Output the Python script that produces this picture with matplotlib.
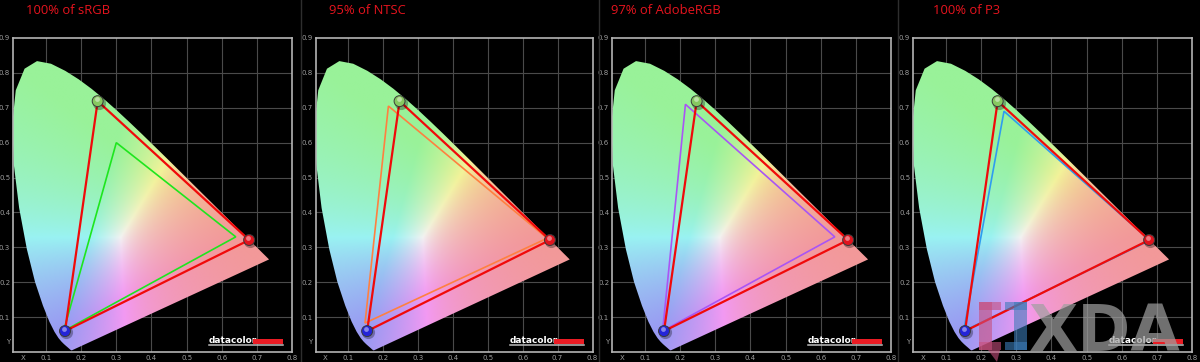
import numpy as np
import matplotlib
matplotlib.use("Agg")
import matplotlib.pyplot as plt
from matplotlib.patches import Polygon, Rectangle

# ---------------- data ----------------
# CIE 1931 spectral locus (380..700 nm, 5 nm steps)
locus_x = [0.1741, 0.1740, 0.1738, 0.1736, 0.1733, 0.1730, 0.1726, 0.1721, 0.1714, 0.1703,
           0.1689, 0.1669, 0.1644, 0.1611, 0.1566, 0.1510, 0.1440, 0.1355, 0.1241, 0.1096,
           0.0913, 0.0687, 0.0454, 0.0235, 0.0082, 0.0039, 0.0139, 0.0389, 0.0743, 0.1142,
           0.1547, 0.1929, 0.2296, 0.2658, 0.3016, 0.3373, 0.3731, 0.4087, 0.4441, 0.4788,
           0.5125, 0.5448, 0.5752, 0.6029, 0.6270, 0.6482, 0.6658, 0.6801, 0.6915, 0.7006,
           0.7079, 0.7140, 0.7190, 0.7230, 0.7260, 0.7283, 0.7300, 0.7311, 0.7320, 0.7327,
           0.7334, 0.7340, 0.7344, 0.7346, 0.7347]
locus_y = [0.0050, 0.0050, 0.0049, 0.0049, 0.0048, 0.0048, 0.0048, 0.0048, 0.0051, 0.0058,
           0.0069, 0.0086, 0.0109, 0.0138, 0.0177, 0.0227, 0.0297, 0.0399, 0.0578, 0.0868,
           0.1327, 0.2007, 0.2950, 0.4127, 0.5384, 0.6548, 0.7502, 0.8120, 0.8338, 0.8262,
           0.8059, 0.7816, 0.7543, 0.7243, 0.6923, 0.6589, 0.6245, 0.5896, 0.5547, 0.5202,
           0.4866, 0.4544, 0.4242, 0.3965, 0.3725, 0.3514, 0.3340, 0.3197, 0.3083, 0.2993,
           0.2920, 0.2859, 0.2809, 0.2770, 0.2740, 0.2717, 0.2700, 0.2689, 0.2680, 0.2673,
           0.2666, 0.2660, 0.2656, 0.2654, 0.2653]

# measured display gamut (R, G, B primaries)
measured_x = [0.678, 0.247, 0.154]
measured_y = [0.321, 0.719, 0.060]

# reference gamuts (R, G, B)
srgb_x = [0.64, 0.30, 0.15]
srgb_y = [0.33, 0.60, 0.06]
ntsc_x = [0.67, 0.215, 0.148]
ntsc_y = [0.326, 0.705, 0.083]
adobe_x = [0.64, 0.215, 0.15]
adobe_y = [0.33, 0.71, 0.06]
p3_x = [0.68, 0.265, 0.15]
p3_y = [0.32, 0.69, 0.06]

titles = ["100% of sRGB", "95% of NTSC", "97% of AdobeRGB", "100% of P3"]
ref_x = [srgb_x, ntsc_x, adobe_x, p3_x]
ref_y = [srgb_y, ntsc_y, adobe_y, p3_y]
ref_colors = ["#1ee61e", "#ff8040", "#a955f5", "#2f9cf0"]

x_ticks = [0.035, 0.1, 0.2, 0.3, 0.4, 0.5, 0.6, 0.7, 0.8]
x_labels = ["X", "0.1", "0.2", "0.3", "0.4", "0.5", "0.6", "0.7", "0.8"]
y_ticks = [0.03, 0.1, 0.2, 0.3, 0.4, 0.5, 0.6, 0.7, 0.8, 0.9]
y_labels = ["Y", "0.1", "0.2", "0.3", "0.4", "0.5", "0.6", "0.7", "0.8", "0.9"]
grid_x = [0.1, 0.2, 0.3, 0.4, 0.5, 0.6, 0.7]
grid_y = [0.1, 0.2, 0.3, 0.4, 0.5, 0.6, 0.7, 0.8]

# ---------------- layout ----------------
W, H = 1200, 362
fig = plt.figure(figsize=(W / 100, H / 100), dpi=100, facecolor="black")

panel_left = [13, 315.5, 612, 913]
panel_width = [279, 277, 279, 279]
title_left = [26, 329, 611, 933]
XMIN, XMAX, YMIN, YMAX = 0.006, 0.8, 0.0, 0.9


def chroma_image():
    xs = np.linspace(0, 0.8, 480)
    ys = np.linspace(0, 0.9, 540)
    X, Y = np.meshgrid(xs, ys)
    Yc = np.clip(Y, 1e-3, None)
    XX = X / Yc
    ZZ = np.clip(1 - X - Y, 0, None) / Yc
    YY = np.ones_like(X)
    R = 3.2406 * XX - 1.5372 * YY - 0.4986 * ZZ
    G = -0.9689 * XX + 1.8758 * YY + 0.0415 * ZZ
    B = 0.0557 * XX - 0.2040 * YY + 1.0570 * ZZ
    rgb = np.clip(np.stack([R, G, B], axis=-1), 0, None)
    rgb = rgb / np.clip(rgb.max(axis=-1, keepdims=True), 1e-6, None)
    rgb = np.where(rgb <= 0.0031308, 12.92 * rgb, 1.055 * rgb ** (1 / 2.4) - 0.055)
    rgb = np.clip(rgb, 0, 1) ** 2.2
    out = 0.60 + 0.35 * rgb
    return np.clip(out, 0, 1)


IMG = chroma_image()
locus = np.column_stack([locus_x, locus_y])


def px2fig(x, y):
    return x / W, 1 - y / H


for i in range(4):
    ax = fig.add_axes([panel_left[i] / W, 10 / H, panel_width[i] / W, 314 / H])
    ax.set_facecolor("black")
    ax.set_xlim(XMIN, XMAX)
    ax.set_ylim(YMIN, YMAX)

    for gx in grid_x:
        ax.axvline(gx, color="#4a4a4a", lw=0.8, zorder=0)
    for gy in grid_y:
        ax.axhline(gy, color="#4a4a4a", lw=0.8, zorder=0)

    clip = Polygon(locus, closed=True, facecolor="none", edgecolor="none")
    ax.add_patch(clip)
    im = ax.imshow(IMG, extent=(0, 0.8, 0, 0.9), origin="lower",
                   interpolation="bilinear", aspect="auto", zorder=1)
    im.set_clip_path(clip)

    # reference triangle
    ax.fill(ref_x[i], ref_y[i], facecolor="none", edgecolor=ref_colors[i],
            lw=1.2, zorder=3, joinstyle="miter")
    # measured triangle
    ax.fill(measured_x, measured_y, facecolor="none", edgecolor="#f00a0a",
            lw=1.6, zorder=4, joinstyle="miter")

    # glossy primary markers
    mcols = ["#e0141e", "#86c860", "#2424d8"]
    ax.scatter([v + 0.003 for v in measured_x], [v - 0.004 for v in measured_y],
               s=90, color="black", alpha=0.3, zorder=5, linewidths=0)
    ax.scatter(measured_x, measured_y, s=62, c=mcols, edgecolors="#3a3a3a",
               linewidths=0.7, zorder=6)
    ax.scatter([v - 0.003 for v in measured_x], [v + 0.005 for v in measured_y],
               s=12, color="white", alpha=0.45, zorder=7, linewidths=0)

    # datacolor logo
    ax.text(0.563, 0.034, "datacolor", color="white", fontsize=6.5,
            fontweight="bold", ha="left", va="center", zorder=8)
    ax.add_patch(Rectangle((0.690, 0.024), 0.085, 0.014, facecolor="#ea1c24",
                           edgecolor="none", zorder=8))
    ax.plot([0.563, 0.775], [0.019, 0.019], color="#bdbdbd", lw=1.1, zorder=8)

    ax.set_xticks(x_ticks)
    ax.set_xticklabels(x_labels)
    ax.set_yticks(y_ticks)
    ax.set_yticklabels(y_labels)
    ax.tick_params(length=0, pad=2, labelsize=5, labelcolor="#9c9c9c")
    for sp in ax.spines.values():
        sp.set_color("#b4b4b4")
        sp.set_linewidth(1.2)

    tx, ty = px2fig(title_left[i], 10)
    fig.text(tx, ty, titles[i], color="#e6141e", fontsize=9.4, family="Open Sans",
             ha="left", va="center")

# panel separators
for sx in [300.5, 598.5, 897.5]:
    fig.add_artist(plt.Line2D([sx / W, sx / W], [0, 1], color="#2e2e2e", lw=1.0))


# XDA watermark on the last panel
def prect(x, y, w, h, color, alpha):
    fx, fy = px2fig(x, y + h)
    fig.add_artist(Rectangle((fx, fy), w / W, h / H, transform=fig.transFigure,
                             facecolor=color, edgecolor="none", alpha=alpha, zorder=20))


pink, blue = "#c8507e", "#3c7cb8"
prect(979, 302, 13, 48, pink, 0.6)
prect(979, 302, 22, 8, pink, 0.6)
prect(979, 342, 22, 8, pink, 0.6)
tail = [px2fig(988, 350), px2fig(1000, 350), px2fig(997, 362)]
fig.add_artist(Polygon(tail, closed=True, transform=fig.transFigure,
                       facecolor=pink, edgecolor="none", alpha=0.6, zorder=20))
prect(1014, 302, 13, 48, blue, 0.6)
prect(1005, 302, 22, 8, blue, 0.6)
prect(1005, 342, 22, 8, blue, 0.6)
wx, wy = px2fig(1029, 351)
fig.text(wx, wy, "XDA", color="#a0a0a0", alpha=0.7, fontsize=46,
         fontweight="bold", ha="left", va="baseline", zorder=20)

fig.savefig("out.png", dpi=100, facecolor="black")
